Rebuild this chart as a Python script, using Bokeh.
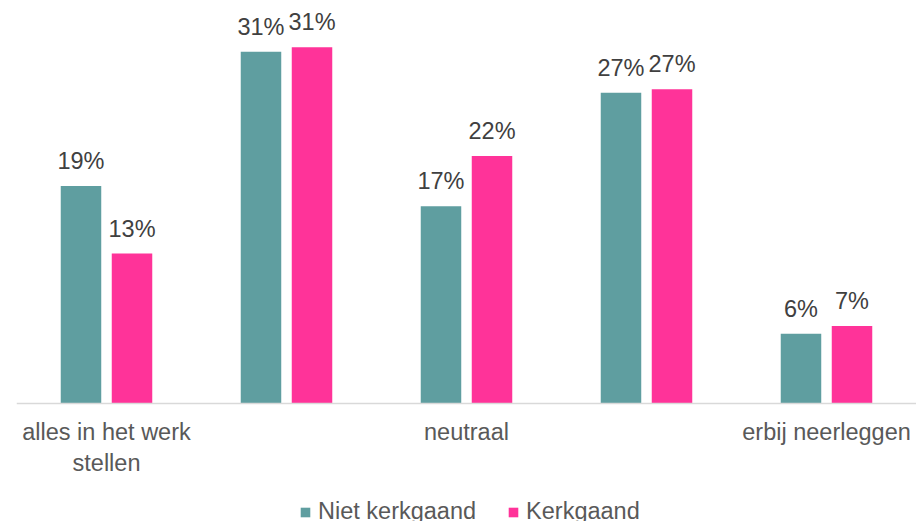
from bokeh.plotting import figure
from bokeh.models import ColumnDataSource, Range1d, Legend, LegendItem, FactorRange, Span
from bokeh.transform import dodge
from bokeh.core.properties import value
from bokeh.embed import file_html
from bokeh.resources import INLINE

# ---- data ----
factors = ["cat1", "cat2", "cat3", "cat4", "cat5"]
tick_labels = ["alles in het werk\nstellen", "", "neutraal", "", "erbij neerleggen"]
series_names = ["Niet kerkgaand", "Kerkgaand"]
niet_kerkgaand = [19.02, 30.76, 17.25, 27.18, 6.10]
kerkgaand = [13.12, 31.16, 21.64, 27.47, 6.79]

FONT = "Liberation Sans"
TEAL = "#5F9EA0"
PINK = "#FF3399"

src = ColumnDataSource(dict(
    cat=factors,
    niet=niet_kerkgaand,
    kerk=kerkgaand,
    niet_lbl=[f"{round(v)}%" for v in niet_kerkgaand],
    kerk_lbl=[f"{round(v)}%" for v in kerkgaand],
))
lab_src = ColumnDataSource(dict(cat=factors, y=[0] * len(factors), label=tick_labels))

p = figure(width=916, height=521, x_range=FactorRange(*factors),
           y_range=Range1d(-10.306, 34.54), output_backend="svg", toolbar_location=None,
           min_border_left=16, min_border_right=0, min_border_top=8, min_border_bottom=0)
p.outline_line_color = None
p.grid.grid_line_color = None
p.xaxis.visible = False
p.yaxis.visible = False
p.x_range.range_padding = 0

r1 = p.vbar(x=dodge("cat", -0.1417, range=p.x_range), top="niet", width=0.225,
            source=src, fill_color=TEAL, line_color=None)
r2 = p.vbar(x=dodge("cat", 0.1417, range=p.x_range), top="kerk", width=0.225,
            source=src, fill_color=PINK, line_color=None)

# baseline (category axis line)
p.add_layout(Span(location=0, dimension="width", line_color="#D9D9D9", line_width=1.5))

# data labels
p.text(x=dodge("cat", -0.1417, range=p.x_range), y="niet", text="niet_lbl", source=src,
       text_align="center", text_baseline="alphabetic", y_offset=-25,
       text_font=value(FONT), text_font_size="23.5px", text_color="#404040")
p.text(x=dodge("cat", 0.1417, range=p.x_range), y="kerk", text="kerk_lbl", source=src,
       text_align="center", text_baseline="alphabetic", y_offset=-25,
       text_font=value(FONT), text_font_size="23.5px", text_color="#404040")

# category labels
p.text(x="cat", y="y", text="label", source=lab_src,
       text_align="center", text_baseline="top", y_offset=15, text_line_height=1.2,
       text_font=value(FONT), text_font_size="23.5px", text_color="#595959")

legend = Legend(items=[LegendItem(label=series_names[0], renderers=[r1]),
                       LegendItem(label=series_names[1], renderers=[r2])],
                orientation="horizontal", location=(283, -4),
                glyph_width=12, glyph_height=12, label_standoff=7, spacing=31,
                padding=0, margin=0, border_line_color=None, background_fill_alpha=0,
                label_text_font=FONT, label_text_font_size="23.5px",
                label_text_color="#595959")
p.add_layout(legend, "center")

open("out.html", "w").write(file_html(p, INLINE))
